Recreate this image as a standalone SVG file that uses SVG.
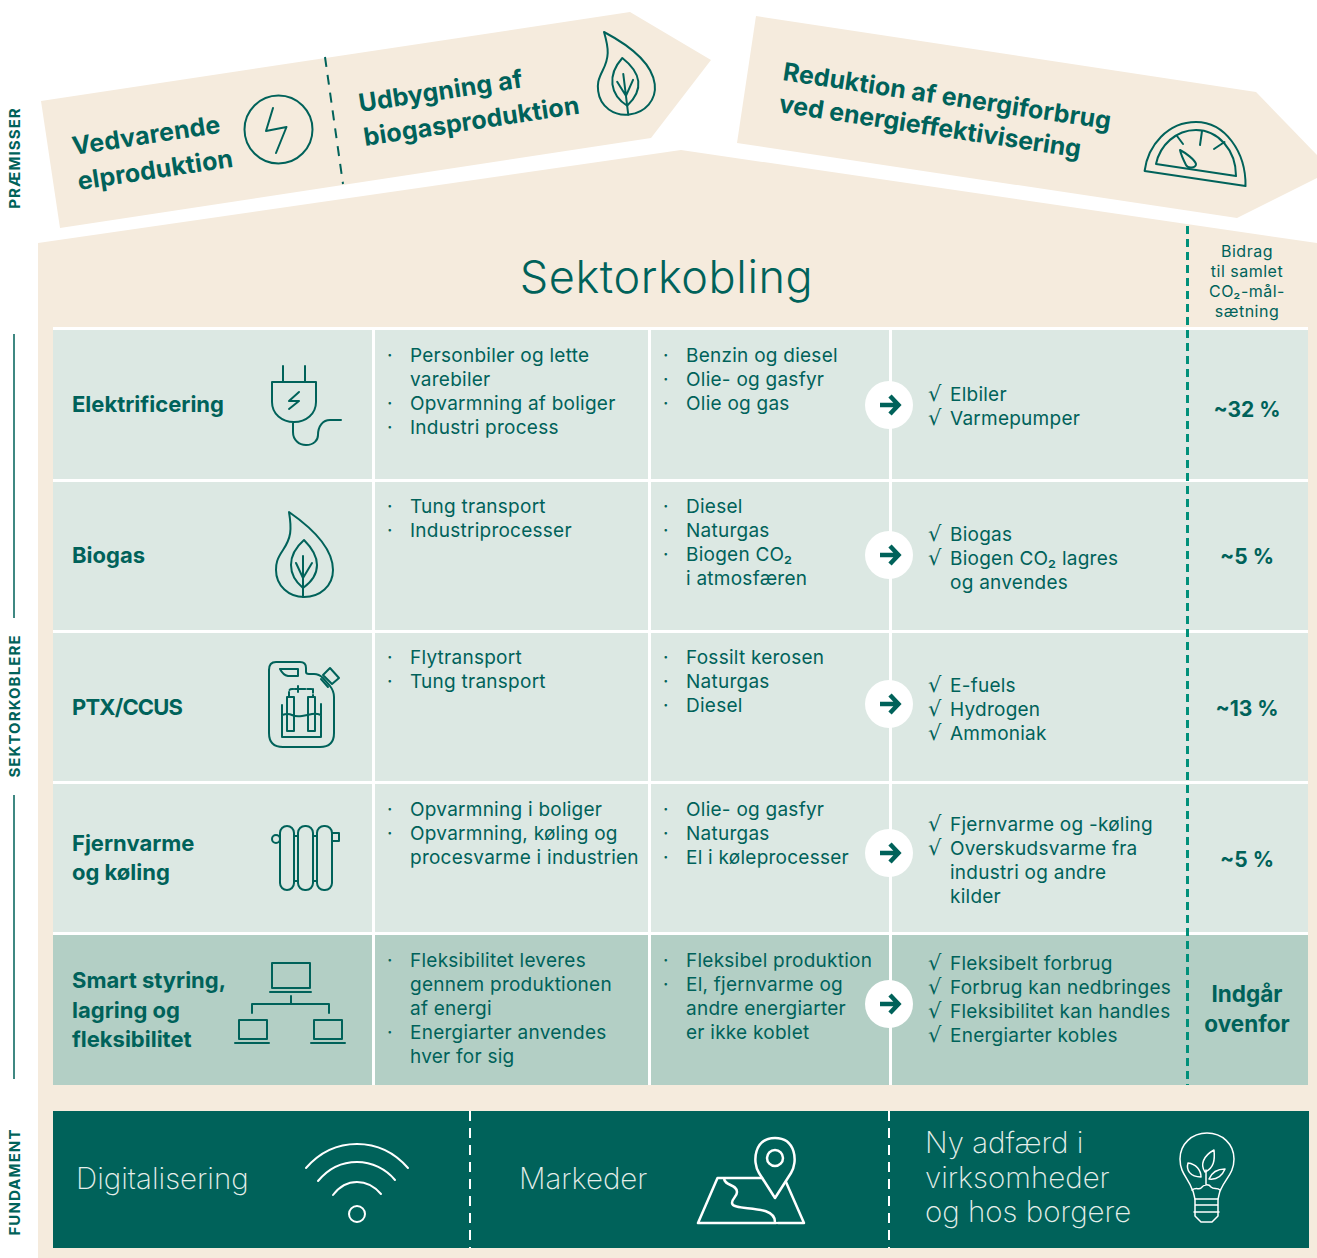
<svg xmlns="http://www.w3.org/2000/svg" width="1317" height="1258" viewBox="0 0 1317 1258">
<defs>
<style>
text{font-family:"Inter","Liberation Sans",sans-serif;fill:#00625a}
.b{font-size:19px;letter-spacing:.25px}
.k{font-family:"DejaVu Sans",sans-serif;font-size:21px;letter-spacing:0}
.h{font-size:22px;font-weight:700}
.a{font-size:25px;font-weight:700;letter-spacing:.15px}
.s{font-size:15px;font-weight:700;text-anchor:middle;letter-spacing:1.100px}
.v{font-size:21px;font-weight:700;text-anchor:middle}
.x{font-size:22.500px}
.f{font-size:29.500px;font-weight:200;fill:#e6efeb}
.m{font-size:16px;text-anchor:middle;letter-spacing:.5px}
.i{fill:none;stroke:#00625a;stroke-width:2;stroke-linecap:round;stroke-linejoin:round}
.w{fill:none;stroke:#fff;stroke-width:2.5;stroke-linecap:round;stroke-linejoin:round}
.l{fill:#dce8e3}.d{fill:#b3cfc5}.c{fill:#f5ebdd}
</style>
<g id="arrowBtn"><circle r="24" fill="#fff"/><path d="M-9,0H8M1,-9L9.500,0L1,9" fill="none" stroke="#00625a" stroke-width="4.500"/></g>
<g id="leaf">
<path d="M289,512C292,530 291,538 283,550C277,559 276,563 276,570C276,586 289,597 304,597C320,597 333,586 333,570C333,548 312,528 289,512Z"/>
<path d="M304,540C296,547 291,555 291,565C291,575 297,583 303,588C310,583 317,575 317,565C317,555 311,547 304,540Z"/>
<path d="M303,556V597M296,563L303,578L312,563"/>
</g>
</defs>
<rect width="1317" height="1258" fill="#fff"/>

<g id="premise-left">
<path class="c" d="M41,101L630,12L711,60L651,138L60,228Z"/>
<path d="M325,57L343,184" fill="none" stroke="#00625a" stroke-width="2" stroke-dasharray="10 8"/>
<text class="a" transform="translate(73.500,155) rotate(-8.600)">Vedvarende</text>
<text class="a" transform="translate(79,190) rotate(-8.600)">elproduktion</text>
<g class="i"><ellipse cx="278.500" cy="129.500" rx="34" ry="34"/><path d="M273,108L266,131L286.500,127L276,153"/></g>
<text class="a" transform="translate(360,112) rotate(-8.600)">Udbygning af</text>
<text class="a" transform="translate(365,146) rotate(-8.600)">biogasproduktion</text>
<use href="#leaf" class="i" transform="translate(604,32) rotate(-7) translate(-289,-512)"/>
</g>

<g id="premise-right">
<path class="c" d="M756,16L1256,92L1317,155V178L1237,218L737,143Z"/>
<text class="a" style="letter-spacing:.05px" transform="translate(782,80) rotate(8.600)">Reduktion af energiforbrug</text>
<text class="a" style="letter-spacing:-.05px" transform="translate(778,112) rotate(8.600)">ved energieffektivisering</text>
<g class="i">
<path d="M1144.600,171L1245.500,186C1246,152 1225,122 1196,122C1168,122 1148,145 1144.600,171Z"/>
<path d="M1156,164L1236,176C1236,150 1218,130 1196,130C1176,130 1160,145 1156,164Z"/>
<path d="M1177,136L1183,144M1202,131L1200,145M1224.500,142L1214,149"/>
<path d="M1180,150C1186,153 1195,160 1196,164C1196,168 1188,169 1186,165C1184,161 1181,155 1180,150Z"/>
</g>
</g>

<g id="house">
<path class="c" d="M38,243L681,150L1317,243V1258H38Z"/>
<text x="666.500" y="293" font-size="45" font-weight="300" letter-spacing=".6" text-anchor="middle">Sektorkobling</text>
<rect x="53" y="327" width="1255" height="758" fill="#fff"/>
</g>

<g id="side-labels">
<text class="s" transform="translate(20,158) rotate(-90)">PRÆMISSER</text>
<text class="s" transform="translate(20,706) rotate(-90)">SEKTORKOBLERE</text>
<text class="s" transform="translate(20,1182) rotate(-90)">FUNDAMENT</text>
<path d="M14,334V618M14,795V1079" stroke="#00625a" stroke-width="1.500" fill="none"/>
</g>

<g id="row-elektrificering">
<rect class="l" x="53" y="330" width="319" height="149"/><rect class="l" x="375" y="330" width="273" height="149"/><rect class="l" x="651" y="330" width="238" height="149"/><rect class="l" x="892" y="330" width="416" height="149"/>
<text class="h" x="72" y="412">Elektrificering</text>
<path class="i" d="M283,366V382M305,366V382M272,382H316V402C316,414 306,422 294,422C282,422 272,414 272,402ZM293,422V432C293,440 299,445 306,445C314,445 318,440 318,435C318,426 323,420 330,420H341M299,392L289,401H299L289,409"/>
<g class="b"><text x="387" y="362">·</text><text x="410" y="362">Personbiler og lette</text><text x="410" y="386">varebiler</text><text x="387" y="410">·</text><text x="410" y="410">Opvarmning af boliger</text><text x="387" y="434">·</text><text x="410" y="434">Industri process</text>
<text x="663" y="362">·</text><text x="686" y="362">Benzin og diesel</text><text x="663" y="386">·</text><text x="686" y="386">Olie- og gasfyr</text><text x="663" y="410">·</text><text x="686" y="410">Olie og gas</text>
<text class="k" x="928" y="401">√</text><text x="950" y="401">Elbiler</text><text class="k" x="928" y="425">√</text><text x="950" y="425">Varmepumper</text></g>
<text class="v" x="1247" y="417">~32 %</text>
</g>

<g id="row-biogas">
<rect class="l" x="53" y="482" width="319" height="148"/><rect class="l" x="375" y="482" width="273" height="148"/><rect class="l" x="651" y="482" width="238" height="148"/><rect class="l" x="892" y="482" width="416" height="148"/>
<text class="h" x="72" y="563">Biogas</text>
<use href="#leaf" class="i"/>
<g class="b"><text x="387" y="513">·</text><text x="410" y="513">Tung transport</text><text x="387" y="537">·</text><text x="410" y="537">Industriprocesser</text>
<text x="663" y="513">·</text><text x="686" y="513">Diesel</text><text x="663" y="537">·</text><text x="686" y="537">Naturgas</text><text x="663" y="561">·</text><text x="686" y="561">Biogen CO₂</text><text x="686" y="585">i atmosfæren</text>
<text class="k" x="928" y="541">√</text><text x="950" y="541">Biogas</text><text class="k" x="928" y="565">√</text><text x="950" y="565">Biogen CO₂ lagres</text><text x="950" y="589">og anvendes</text></g>
<text class="v" x="1247" y="564">~5 %</text>
</g>

<g id="row-ptx">
<rect class="l" x="53" y="633" width="319" height="148"/><rect class="l" x="375" y="633" width="273" height="148"/><rect class="l" x="651" y="633" width="238" height="148"/><rect class="l" x="892" y="633" width="416" height="148"/>
<text class="h" x="72" y="715" textLength="111">PTX/CCUS</text>
<g class="i" stroke-width="1.800">
<path d="M276,662H300Q306,662 306,668V672Q306,674 309,674H314Q319,674 323,678L330,686Q334,691 334,697V733Q334,747 320,747H283Q269,747 269,733V670Q269,662 276,662Z"/>
<path d="M280,669H298V676H288Q283,675 280,669Z"/>
<path d="M323,675L330,668L339,678L332,684ZM321,679L328,687"/>
<path d="M282,705V737H321V704M282,715Q288,713 292,715T302,716T312,714T321,715"/>
<rect x="287" y="697" width="7" height="34"/><rect x="308" y="697" width="7" height="34"/>
<path d="M289,696V692Q289,689 292,689H313Q313,689 313,696" stroke-dasharray="4 2"/>
<path d="M295,689H301M298,686V692"/>
</g>
<g class="b"><text x="387" y="664">·</text><text x="410" y="664">Flytransport</text><text x="387" y="688">·</text><text x="410" y="688">Tung transport</text>
<text x="663" y="664">·</text><text x="686" y="664">Fossilt kerosen</text><text x="663" y="688">·</text><text x="686" y="688">Naturgas</text><text x="663" y="712">·</text><text x="686" y="712">Diesel</text>
<text class="k" x="928" y="692">√</text><text x="950" y="692">E-fuels</text><text class="k" x="928" y="716">√</text><text x="950" y="716">Hydrogen</text><text class="k" x="928" y="740">√</text><text x="950" y="740">Ammoniak</text></g>
<text class="v" x="1247" y="716">~13 %</text>
</g>

<g id="row-fjernvarme">
<rect class="l" x="53" y="784" width="319" height="148"/><rect class="l" x="375" y="784" width="273" height="148"/><rect class="l" x="651" y="784" width="238" height="148"/><rect class="l" x="892" y="784" width="416" height="148"/>
<text class="h" x="72" y="851">Fjernvarme</text><text class="h" x="72" y="880">og køling</text>
<g class="i">
<rect x="280" y="826" width="14" height="64" rx="7"/><rect x="298" y="826" width="15" height="64" rx="7"/><rect x="317" y="826" width="15" height="64" rx="7"/>
<path d="M294,836H298M313,836H317M294,881H298M313,881H317M332,833H339V841H332"/><circle cx="276" cy="839" r="4"/>
</g>
<g class="b"><text x="387" y="816">·</text><text x="410" y="816">Opvarmning i boliger</text><text x="387" y="840">·</text><text x="410" y="840">Opvarmning, køling og</text><text x="410" y="864">procesvarme i industrien</text>
<text x="663" y="816">·</text><text x="686" y="816">Olie- og gasfyr</text><text x="663" y="840">·</text><text x="686" y="840">Naturgas</text><text x="663" y="864">·</text><text x="686" y="864">El i køleprocesser</text>
<text class="k" x="928" y="831">√</text><text x="950" y="831">Fjernvarme og -køling</text><text class="k" x="928" y="855">√</text><text x="950" y="855">Overskudsvarme fra</text><text x="950" y="879">industri og andre</text><text x="950" y="903">kilder</text></g>
<text class="v" x="1247" y="867">~5 %</text>
</g>

<g id="row-smart">
<rect class="d" x="53" y="935" width="319" height="150"/><rect class="d" x="375" y="935" width="273" height="150"/><rect class="d" x="651" y="935" width="238" height="150"/><rect class="d" x="892" y="935" width="416" height="150"/>
<text class="h" x="72" y="988">Smart styring,</text><text class="h" x="72" y="1018">lagring og</text><text class="h" x="72" y="1047">fleksibilitet</text>
<g class="i"><rect x="272" y="963" width="38" height="25"/><path d="M270,992H311M291,996V1004M252,1013V1004H329V1013M235,1043H269M311,1043H345"/><rect x="239" y="1020" width="28" height="19"/><rect x="314" y="1020" width="28" height="19"/></g>
<g class="b"><text x="387" y="967">·</text><text x="410" y="967">Fleksibilitet leveres</text><text x="410" y="991">gennem produktionen</text><text x="410" y="1015">af energi</text><text x="387" y="1039">·</text><text x="410" y="1039">Energiarter anvendes</text><text x="410" y="1063">hver for sig</text>
<text x="663" y="967">·</text><text x="686" y="967">Fleksibel produktion</text><text x="663" y="991">·</text><text x="686" y="991">El, fjernvarme og</text><text x="686" y="1015">andre energiarter</text><text x="686" y="1039">er ikke koblet</text>
<text class="k" x="928" y="970">√</text><text x="950" y="970">Fleksibelt forbrug</text><text class="k" x="928" y="994">√</text><text x="950" y="994">Forbrug kan nedbringes</text><text class="k" x="928" y="1018">√</text><text x="950" y="1018">Fleksibilitet kan handles</text><text class="k" x="928" y="1042">√</text><text x="950" y="1042">Energiarter kobles</text></g>
<text class="v x" x="1247" y="1002">Indgår</text><text class="v x" x="1247" y="1032">ovenfor</text>
</g>

<g id="connectors">
<use href="#arrowBtn" x="889" y="405"/><use href="#arrowBtn" x="889" y="555"/><use href="#arrowBtn" x="889" y="704"/><use href="#arrowBtn" x="889" y="853"/><use href="#arrowBtn" x="889" y="1004"/>
<path d="M1187.500,226V1085" stroke="#00907a" stroke-width="3" stroke-dasharray="8 5" fill="none"/>
</g>

<g id="contribution-header">
<text class="m" x="1247" y="257">Bidrag</text><text class="m" x="1247" y="277">til samlet</text><text class="m" x="1247" y="297">CO₂-mål-</text><text class="m" x="1247" y="317">sætning</text>
</g>

<g id="foundation">
<rect x="53" y="1111" width="1256" height="137" fill="#00625a"/>
<path d="M470,1111V1248M889,1111V1248" stroke="#fff" stroke-width="2" stroke-dasharray="10 7" fill="none"/>
<text class="f" x="76" y="1189">Digitalisering</text>
<g class="w" style="stroke-width:2"><path d="M306,1168C320,1152 338,1144 357,1144C376,1144 394,1152 408,1168M318,1181C328,1169 342,1162 357,1162C372,1162 386,1169 395,1180M333,1195C339,1187 348,1182 357,1182C366,1182 375,1187 381,1194"/><circle cx="357" cy="1214" r="8"/></g>
<text class="f" x="519" y="1189">Markeder</text>
<g class="w"><path d="M775,1198L759,1173C752,1162 754,1138 775,1138C796,1138 798,1162 791,1173Z"/><circle cx="775" cy="1158" r="8"/>
<path d="M762,1178H717.500L698,1223H776M778,1223H804L786,1182M724,1178C724,1186 737,1184 737,1192C737,1197 732,1198 732,1203C732,1212 775,1203 775,1222"/></g>
<text class="f" x="925" y="1153">Ny adfærd i</text><text class="f" x="925" y="1188">virksomheder</text><text class="f" x="925" y="1222">og hos borgere</text>
<g class="w" style="stroke-width:1.500">
<path d="M1192,1189C1188,1178 1180,1173 1180,1159C1180,1144 1192,1133 1207,1133C1222,1133 1234,1144 1234,1159C1234,1173 1226,1178 1221,1189C1219,1192 1219,1196 1218,1199H1195C1194,1196 1194,1192 1192,1189Z"/>
<path d="M1192,1190C1196,1187 1199,1190 1201,1188C1204,1184 1209,1184 1211,1187C1214,1190 1217,1187 1220,1190M1206,1185V1170M1195,1199V1216L1201,1222H1212L1218,1216V1199M1195,1205H1218M1194,1212H1219"/>
<path d="M1205,1172C1200,1165 1203,1156 1214,1150C1215,1160 1214,1168 1205,1172ZM1201,1177C1190,1177 1186,1170 1188,1163C1196,1164 1201,1170 1201,1177ZM1209,1179C1212,1172 1218,1169 1225,1169C1222,1176 1217,1180 1209,1179Z"/>
</g>
</g>
</svg>
